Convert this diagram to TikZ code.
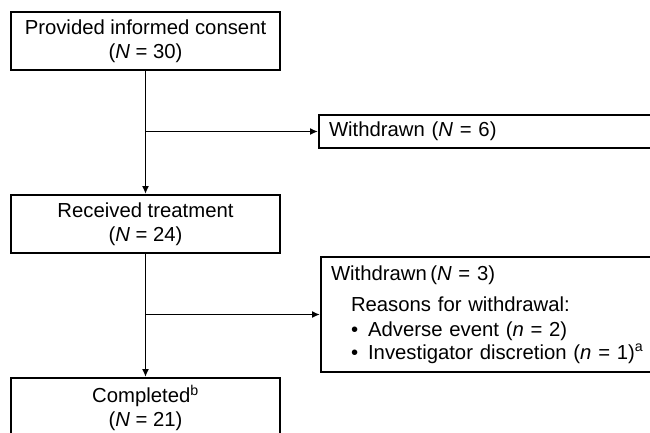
\documentclass[tikz,border=0pt]{standalone}
\usepackage{fontspec}
\setmainfont{Liberation Sans}
\usetikzlibrary{arrows.meta,positioning}
\tikzset{
  box/.style={draw=black, line width=2pt, fill=white, align=center, minimum width=269pt, inner sep=0pt},
  sidebox/.style={draw=black, line width=2pt, fill=white, align=left, anchor=west, text width=330pt, inner xsep=10pt, inner ysep=0pt},
  arr/.style={-{Latex[length=8pt,width=7pt]}, line width=1.8pt, color=black},
}
\begin{document}
\begin{tikzpicture}[x=1pt, y=-1pt, font=\fontsize{20.3}{24}\selectfont]
  \useasboundingbox (0,0) rectangle (650,432);
  % main column
  \node[box, anchor=north, minimum height=58pt] (consent) at (145.5,11) {Provided informed consent\\(\textit{N} = 30)};
  \node[box, anchor=north, minimum height=58pt] (treated) at (145.5,194) {Received treatment\\(\textit{N} = 24)};
  \node[box, anchor=north, minimum height=60pt] (completed) at (145.5,377) {Completed\textsuperscript{b}\\(\textit{N} = 21)};
  % withdrawals
  \node[sidebox, minimum height=33pt] (wd1) at (318,131.5) {Withdrawn (\textit{N} = 6)};
  \node[sidebox, minimum height=115pt] (wd2) at (320,314.5) {Withdrawn\,(\textit{N} = 3)\\[7pt]
    \hspace*{20pt}Reasons for withdrawal:\\[1pt]
    \hspace*{20pt}\textbullet\hspace{10pt}Adverse event (\textit{n} = 2)\\[-1pt]
    \hspace*{20pt}\textbullet\hspace{10pt}Investigator discretion (\textit{n} = 1)\textsuperscript{a}};
  \coordinate (split1) at (consent.south |- wd1.west);
  \coordinate (split2) at (treated.south |- wd2.west);
  \draw[arr] (consent) -- (treated);
  \draw[arr] (treated) -- (completed);
  \draw[arr] (split1) -- (wd1.west);
  \draw[arr] (split2) -- (wd2.west);
\end{tikzpicture}
\end{document}
